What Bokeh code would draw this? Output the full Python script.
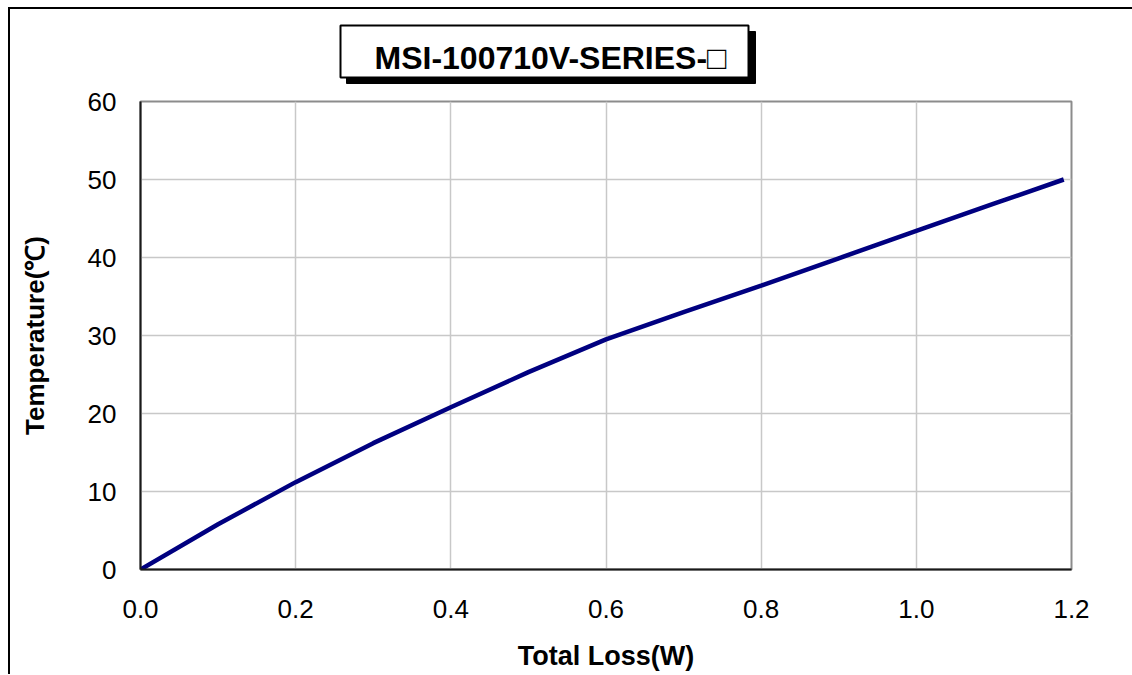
from bokeh.plotting import figure
from bokeh.layouts import column
from bokeh.models import Range1d, FixedTicker, NumeralTickFormatter
from bokeh.core.properties import value
from bokeh.embed import file_html
from bokeh.resources import INLINE

# ---- data ----
loss_w = [0.0, 0.1, 0.2, 0.3, 0.4, 0.5, 0.6, 0.7, 0.8, 0.9, 1.0, 1.1, 1.19]
temp_c = [0.0, 5.8, 11.2, 16.2, 20.8, 25.3, 29.5, 33.0, 36.4, 39.9, 43.4, 46.9, 50.0]
x_ticks = [0.0, 0.2, 0.4, 0.6, 0.8, 1.0, 1.2]
y_ticks = [0, 10, 20, 30, 40, 50, 60]
title_text = "MSI-100710V-SERIES-\u25a1"
x_label = "Total Loss(W)"
y_label = "Temperature(\u2103)"

FONT = "Liberation Sans"
X0, Y0 = 10, 9          # page position of content (inside the outer border)
W = 1122
HH = 76                 # header height  (page y 9..85)
HM = 589                # main plot height (page y 85..674)
FL, FR, FT, FB = 140, 1071, 101, 569   # frame edges on the page

# ---- header with title box (frame aligned with main frame) ----
hdr = figure(width=W, height=HH, output_backend="svg", toolbar_location=None,
             x_range=Range1d(FL, FR), y_range=Range1d(Y0 + HH, Y0),
             x_axis_type=None, y_axis_type=None,
             min_border_left=FL - X0, min_border_right=X0 + W - FR,
             min_border_top=0, min_border_bottom=0)
hdr.border_fill_color = "white"
hdr.background_fill_color = "white"
hdr.outline_line_color = None
hdr.grid.visible = False
# decoration in page-pixel coordinates: shadow, box, text
hdr.quad(left=[346], right=[755], top=[31], bottom=[83], fill_color="black", line_color="black")
hdr.quad(left=[340], right=[748], top=[25], bottom=[77], fill_color="white",
         line_color="black", line_width=2)
hdr.text(x=[374], y=[57], text=[title_text], text_align="left", text_baseline="alphabetic",
         text_font=value(FONT), text_font_style="bold", text_font_size="32px", text_color="black")

# ---- main plot ----
p = figure(width=W, height=HM, output_backend="svg", toolbar_location=None,
           x_range=Range1d(0, 1.2), y_range=Range1d(0, 60),
           min_border_left=FL - X0, min_border_top=FT - (Y0 + HH),
           min_border_right=X0 + W - FR, min_border_bottom=Y0 + HH + HM - FB)
p.background_fill_color = "white"
p.border_fill_color = "white"
p.outline_line_color = "#8c8c8c"
p.outline_line_width = 2

p.xgrid.ticker = FixedTicker(ticks=x_ticks)
p.ygrid.ticker = FixedTicker(ticks=y_ticks)
p.grid.grid_line_color = "#c8c8c8"
p.grid.grid_line_width = 1.5

for ax in (p.xaxis[0], p.yaxis[0]):
    ax.axis_line_color = "#1a1a1a"
    ax.axis_line_width = 2
    ax.major_tick_line_color = None
    ax.minor_tick_line_color = None
    ax.major_tick_out = 0
    ax.major_tick_in = 0
    ax.major_label_text_font = FONT
    ax.major_label_text_font_size = "26px"
    ax.major_label_text_color = "black"
    ax.axis_label_text_font = FONT
    ax.axis_label_text_font_style = "bold"
    ax.axis_label_text_color = "black"

p.xaxis.ticker = FixedTicker(ticks=x_ticks)
p.yaxis.ticker = FixedTicker(ticks=y_ticks)
p.xaxis.formatter = NumeralTickFormatter(format="0.0")
p.yaxis.formatter = NumeralTickFormatter(format="0")
p.xaxis.major_label_standoff = 30
p.yaxis.major_label_standoff = 24

p.xaxis.axis_label = x_label
p.xaxis.axis_label_text_font_size = "27px"
p.xaxis.axis_label_standoff = 20
p.yaxis.axis_label = y_label
p.yaxis.axis_label_text_font_size = "26px"
p.yaxis.axis_label_standoff = 35

p.line(loss_w, temp_c, line_color="#000080", line_width=4.5)

layout = column(hdr, p, spacing=0,
                styles={"margin-left": "8px", "margin-top": "7px",
                        "border-left": "2px solid black", "border-top": "2px solid black"})
open("out.html", "w").write(file_html(layout, INLINE))
